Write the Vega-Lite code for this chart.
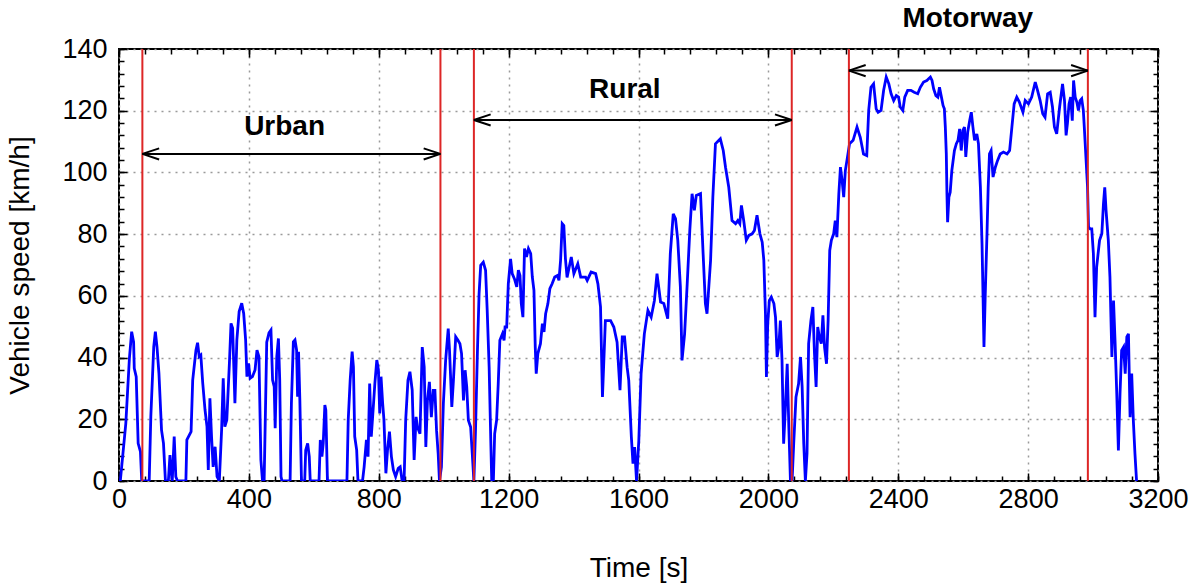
{
  "$schema": "https://vega.github.io/schema/vega-lite/v6.json",
  "width": 1039,
  "height": 432,
  "autosize": "none",
  "padding": {"left": 119, "top": 49, "right": 34, "bottom": 103},
  "background": "white",
  "config": {
    "view": {"stroke": "black", "strokeWidth": 2},
    "font": "Liberation Sans",
    "axis": {"domain": false, "tickColor": "black", "tickWidth": 1.5, "labelColor": "black", "titleColor": "black", "labelFont": "Liberation Sans", "titleFont": "Liberation Sans"}
  },
  "datasets": {
    "speed": [
      {"t":0,"v":0},{"t":4,"v":0},{"t":21,"v":18.7},{"t":32,"v":39.7},{"t":39,"v":48.4},{"t":45,"v":45},{"t":47,"v":36.5},{"t":53,"v":33.8},{"t":59,"v":12.2},{"t":66,"v":9.5},{"t":70,"v":0},{"t":93,"v":0},{"t":98,"v":20.8},{"t":107,"v":43.5},{"t":112,"v":48.4},{"t":117,"v":43.5},{"t":123,"v":34.9},{"t":131,"v":16.5},{"t":137,"v":12.2},{"t":143,"v":0},{"t":152,"v":0},{"t":157,"v":8.4},{"t":160,"v":3.6},{"t":164,"v":0},{"t":170,"v":14.4},{"t":175,"v":1.4},{"t":180,"v":0},{"t":206,"v":0},{"t":209,"v":13.3},{"t":222,"v":16},{"t":227,"v":32.7},{"t":237,"v":42.4},{"t":242,"v":44.8},{"t":247,"v":40.3},{"t":252,"v":40.8},{"t":258,"v":31.6},{"t":265,"v":23},{"t":271,"v":17.6},{"t":275,"v":3.6},{"t":280,"v":26.8},{"t":285,"v":14.4},{"t":290,"v":4.6},{"t":296,"v":11.1},{"t":302,"v":1.4},{"t":309,"v":0},{"t":316,"v":16.5},{"t":321,"v":33.3},{"t":326,"v":17.6},{"t":332,"v":19.8},{"t":340,"v":38.1},{"t":345,"v":51.1},{"t":350,"v":49.5},{"t":357,"v":25.2},{"t":363,"v":45.7},{"t":370,"v":54.9},{"t":378,"v":57.6},{"t":384,"v":54.3},{"t":390,"v":45.7},{"t":394,"v":33.8},{"t":399,"v":38.1},{"t":404,"v":33.3},{"t":411,"v":33.8},{"t":419,"v":36},{"t":425,"v":42.4},{"t":431,"v":40.3},{"t":437,"v":6.8},{"t":442,"v":0},{"t":447,"v":0},{"t":455,"v":45},{"t":462,"v":48},{"t":468,"v":48.9},{"t":473,"v":32.7},{"t":478,"v":30.6},{"t":481,"v":17.1},{"t":486,"v":40.3},{"t":491,"v":46.2},{"t":495,"v":32.7},{"t":499,"v":1.4},{"t":502,"v":0},{"t":527,"v":0},{"t":531,"v":25.2},{"t":537,"v":45.1},{"t":542,"v":45.7},{"t":547,"v":42.4},{"t":550,"v":27.3},{"t":553,"v":41.9},{"t":557,"v":26.2},{"t":562,"v":0},{"t":572,"v":0},{"t":575,"v":10},{"t":581,"v":12.2},{"t":586,"v":7.9},{"t":589,"v":0},{"t":616,"v":0},{"t":620,"v":13.3},{"t":625,"v":7.9},{"t":629,"v":12.2},{"t":634,"v":24.6},{"t":637,"v":23},{"t":642,"v":0},{"t":702,"v":0},{"t":706,"v":19.8},{"t":712,"v":32.7},{"t":718,"v":41.9},{"t":722,"v":37},{"t":726,"v":14.4},{"t":732,"v":10},{"t":736,"v":0},{"t":750,"v":0},{"t":755,"v":4.6},{"t":762,"v":13.3},{"t":767,"v":7.9},{"t":772,"v":31.6},{"t":777,"v":14.4},{"t":784,"v":25.2},{"t":788,"v":31.6},{"t":794,"v":39.2},{"t":799,"v":36},{"t":803,"v":21.9},{"t":807,"v":33.8},{"t":812,"v":25.2},{"t":816,"v":19.8},{"t":822,"v":2.5},{"t":827,"v":10},{"t":833,"v":16},{"t":839,"v":7.9},{"t":845,"v":3.6},{"t":852,"v":1.4},{"t":860,"v":4.1},{"t":866,"v":4.6},{"t":872,"v":0},{"t":878,"v":0},{"t":883,"v":19.8},{"t":890,"v":32.7},{"t":896,"v":35.4},{"t":903,"v":29.5},{"t":909,"v":6.8},{"t":915,"v":20.8},{"t":919,"v":17.5},{"t":927,"v":15.3},{"t":934,"v":43.4},{"t":940,"v":36.9},{"t":945,"v":11},{"t":950,"v":26.1},{"t":956,"v":32.1},{"t":962,"v":20.7},{"t":968,"v":29.4},{"t":973,"v":29.4},{"t":978,"v":16.4},{"t":983,"v":8.9},{"t":987,"v":0},{"t":993,"v":4.5},{"t":999,"v":25.1},{"t":1006,"v":39.1},{"t":1014,"v":49.4},{"t":1018,"v":42.3},{"t":1025,"v":24},{"t":1030,"v":32.6},{"t":1037,"v":46.7},{"t":1044,"v":45.6},{"t":1050,"v":44.5},{"t":1055,"v":41.3},{"t":1061,"v":26.1},{"t":1066,"v":35.9},{"t":1071,"v":30.5},{"t":1076,"v":19.7},{"t":1083,"v":17.5},{"t":1088,"v":8.9},{"t":1093,"v":0},{"t":1098,"v":16.4},{"t":1104,"v":42.3},{"t":1109,"v":60.7},{"t":1114,"v":69.9},{"t":1122,"v":70.9},{"t":1129,"v":68.3},{"t":1134,"v":55.3},{"t":1140,"v":36.9},{"t":1145,"v":13.2},{"t":1148,"v":0},{"t":1153,"v":0},{"t":1157,"v":15.3},{"t":1163,"v":19.7},{"t":1168,"v":31.5},{"t":1173,"v":45.6},{"t":1181,"v":47.7},{"t":1186,"v":45.6},{"t":1189,"v":49.9},{"t":1194,"v":49.9},{"t":1199,"v":63.9},{"t":1206,"v":72},{"t":1211,"v":67.2},{"t":1218,"v":65.5},{"t":1225,"v":62.9},{"t":1230,"v":68.3},{"t":1235,"v":66.6},{"t":1239,"v":57.5},{"t":1244,"v":53.1},{"t":1249,"v":75.3},{"t":1255,"v":72.6},{"t":1261,"v":75.3},{"t":1268,"v":73.7},{"t":1273,"v":66.1},{"t":1278,"v":61.8},{"t":1282,"v":43.4},{"t":1285,"v":34.8},{"t":1290,"v":41.3},{"t":1298,"v":44.5},{"t":1304,"v":51},{"t":1309,"v":48.3},{"t":1314,"v":54.2},{"t":1321,"v":57.5},{"t":1327,"v":62.3},{"t":1334,"v":63.9},{"t":1342,"v":66.1},{"t":1350,"v":66.6},{"t":1355,"v":65},{"t":1360,"v":71.5},{"t":1365,"v":83.4},{"t":1370,"v":82.8},{"t":1375,"v":72},{"t":1380,"v":66},{"t":1393,"v":72.6},{"t":1401,"v":67.2},{"t":1413,"v":70.4},{"t":1422,"v":66.1},{"t":1437,"v":66.1},{"t":1442,"v":65},{"t":1454,"v":67.7},{"t":1468,"v":67.2},{"t":1475,"v":63.9},{"t":1483,"v":56.4},{"t":1489,"v":27.2},{"t":1498,"v":52},{"t":1514,"v":52},{"t":1524,"v":49.9},{"t":1534,"v":45},{"t":1543,"v":29.4},{"t":1550,"v":46.7},{"t":1557,"v":46.7},{"t":1565,"v":36.9},{"t":1570,"v":32.6},{"t":1578,"v":14.3},{"t":1583,"v":5.6},{"t":1588,"v":11},{"t":1594,"v":0},{"t":1601,"v":13.2},{"t":1608,"v":34.8},{"t":1618,"v":47.7},{"t":1629,"v":55.3},{"t":1639,"v":53.1},{"t":1649,"v":58.5},{"t":1657,"v":67.2},{"t":1668,"v":58},{"t":1678,"v":57.5},{"t":1690,"v":52.6},{"t":1698,"v":73.7},{"t":1707,"v":86.6},{"t":1714,"v":85},{"t":1721,"v":78},{"t":1729,"v":62.9},{"t":1734,"v":39.1},{"t":1742,"v":47.7},{"t":1750,"v":63.9},{"t":1758,"v":81.2},{"t":1765,"v":93.1},{"t":1772,"v":87.7},{"t":1778,"v":92.5},{"t":1791,"v":93.1},{"t":1799,"v":73.7},{"t":1806,"v":57.5},{"t":1811,"v":54.2},{"t":1822,"v":71.5},{"t":1829,"v":92},{"t":1837,"v":109.3},{"t":1852,"v":110.9},{"t":1861,"v":107.1},{"t":1868,"v":101.7},{"t":1878,"v":95.2},{"t":1888,"v":84.4},{"t":1899,"v":83.4},{"t":1906,"v":84.4},{"t":1912,"v":83.4},{"t":1917,"v":89.3},{"t":1924,"v":84.4},{"t":1932,"v":78},{"t":1940,"v":79.6},{"t":1950,"v":80.1},{"t":1957,"v":81.2},{"t":1965,"v":86.1},{"t":1974,"v":80.1},{"t":1981,"v":77.4},{"t":1986,"v":71.5},{"t":1991,"v":54.2},{"t":1994,"v":33.7},{"t":1998,"v":51},{"t":2003,"v":58.5},{"t":2009,"v":59.6},{"t":2017,"v":57.5},{"t":2022,"v":53.1},{"t":2027,"v":40.2},{"t":2032,"v":43.4},{"t":2037,"v":52},{"t":2042,"v":39.1},{"t":2047,"v":12.1},{"t":2052,"v":22.9},{"t":2058,"v":38},{"t":2063,"v":17.5},{"t":2068,"v":0},{"t":2073,"v":0},{"t":2078,"v":12.1},{"t":2085,"v":27.2},{"t":2093,"v":31.5},{"t":2099,"v":40.2},{"t":2104,"v":30.5},{"t":2109,"v":12.1},{"t":2114,"v":0},{"t":2119,"v":8.9},{"t":2124,"v":44.5},{"t":2131,"v":52},{"t":2137,"v":56.4},{"t":2142,"v":41.3},{"t":2147,"v":30.5},{"t":2152,"v":49.9},{"t":2157,"v":46.7},{"t":2163,"v":44.5},{"t":2168,"v":53.7},{"t":2173,"v":43.4},{"t":2179,"v":38},{"t":2184,"v":52},{"t":2189,"v":74.7},{"t":2194,"v":78},{"t":2201,"v":80.1},{"t":2206,"v":84.4},{"t":2211,"v":79},{"t":2217,"v":93.1},{"t":2222,"v":101.7},{"t":2227,"v":97.4},{"t":2232,"v":92},{"t":2237,"v":100.6},{"t":2242,"v":103.9},{"t":2250,"v":109.3},{"t":2261,"v":110.4},{"t":2273,"v":114.7},{"t":2283,"v":111.4},{"t":2293,"v":106},{"t":2303,"v":105.5},{"t":2309,"v":120.1},{"t":2316,"v":127.6},{"t":2324,"v":128.7},{"t":2332,"v":120.6},{"t":2338,"v":119.5},{"t":2347,"v":120.1},{"t":2355,"v":126.6},{"t":2363,"v":130.9},{"t":2371,"v":128.7},{"t":2378,"v":125.5},{"t":2386,"v":123.3},{"t":2394,"v":124.9},{"t":2401,"v":124.4},{"t":2406,"v":121.2},{"t":2414,"v":120.1},{"t":2420,"v":124.4},{"t":2429,"v":126.6},{"t":2439,"v":126.6},{"t":2449,"v":126},{"t":2460,"v":125.5},{"t":2468,"v":127.6},{"t":2478,"v":129.3},{"t":2488,"v":129.8},{"t":2499,"v":130.9},{"t":2504,"v":129.8},{"t":2509,"v":127.1},{"t":2516,"v":124.9},{"t":2522,"v":124.4},{"t":2527,"v":127.6},{"t":2533,"v":124.4},{"t":2538,"v":121.7},{"t":2542,"v":120.6},{"t":2545,"v":114.7},{"t":2548,"v":106},{"t":2550,"v":93.1},{"t":2552,"v":83.9},{"t":2556,"v":92},{"t":2560,"v":93.6},{"t":2565,"v":100.6},{"t":2573,"v":107.1},{"t":2579,"v":109.3},{"t":2584,"v":110.4},{"t":2589,"v":114.1},{"t":2594,"v":107.1},{"t":2599,"v":113.6},{"t":2604,"v":114.7},{"t":2608,"v":105},{"t":2614,"v":113.1},{"t":2620,"v":116.8},{"t":2625,"v":119.5},{"t":2630,"v":114.7},{"t":2635,"v":110.4},{"t":2642,"v":112.5},{"t":2647,"v":109.3},{"t":2653,"v":95.2},{"t":2658,"v":76.9},{"t":2661,"v":60.7},{"t":2664,"v":43.4},{"t":2668,"v":60.7},{"t":2673,"v":79},{"t":2677,"v":95.2},{"t":2681,"v":106},{"t":2686,"v":107.1},{"t":2692,"v":98.5},{"t":2699,"v":101.7},{"t":2706,"v":103.9},{"t":2714,"v":106},{"t":2724,"v":106.6},{"t":2735,"v":106},{"t":2743,"v":107.1},{"t":2750,"v":114.7},{"t":2757,"v":122.2},{"t":2765,"v":124.4},{"t":2773,"v":122.8},{"t":2784,"v":119.5},{"t":2791,"v":123.3},{"t":2801,"v":122.2},{"t":2811,"v":124.4},{"t":2822,"v":129.3},{"t":2829,"v":126.6},{"t":2837,"v":123.3},{"t":2845,"v":119},{"t":2852,"v":117.9},{"t":2860,"v":125.5},{"t":2868,"v":126},{"t":2875,"v":121.2},{"t":2881,"v":114.7},{"t":2888,"v":112.5},{"t":2897,"v":121.2},{"t":2906,"v":128.7},{"t":2912,"v":123.3},{"t":2917,"v":112},{"t":2921,"v":115.8},{"t":2926,"v":122.2},{"t":2931,"v":124.4},{"t":2936,"v":116.8},{"t":2940,"v":129.8},{"t":2945,"v":124.4},{"t":2950,"v":122.8},{"t":2955,"v":120.1},{"t":2960,"v":123.3},{"t":2965,"v":123.9},{"t":2970,"v":120.1},{"t":2973,"v":114.7},{"t":2978,"v":105},{"t":2983,"v":95.2},{"t":2986,"v":82.3},{"t":2991,"v":81.7},{"t":2996,"v":81.7},{"t":3001,"v":73.7},{"t":3006,"v":53.1},{"t":3011,"v":69.3},{"t":3020,"v":78},{"t":3027,"v":80.1},{"t":3032,"v":89.8},{"t":3036,"v":95.2},{"t":3040,"v":87.7},{"t":3047,"v":78},{"t":3052,"v":66.1},{"t":3058,"v":40.2},{"t":3063,"v":58.5},{"t":3068,"v":44.5},{"t":3073,"v":28.3},{"t":3078,"v":9.9},{"t":3083,"v":28.3},{"t":3088,"v":42.3},{"t":3094,"v":43.4},{"t":3099,"v":34.8},{"t":3104,"v":46.7},{"t":3109,"v":47.7},{"t":3114,"v":20.7},{"t":3119,"v":34.8},{"t":3124,"v":19.7},{"t":3129,"v":8.9},{"t":3134,"v":0}
    ],
    "bounds": [{"t":72},{"t":990},{"t":1093},{"t":2072},{"t":2248},{"t":2984}],
    "arrows": [
      {"from":72,"to":990,"v":106},
      {"from":1093,"to":2072,"v":117},
      {"from":2248,"to":2984,"v":133}
    ],
    "heads": [
      {"t":72,"v":106,"dir":"left"},{"t":990,"v":106,"dir":"right"},
      {"t":1093,"v":117,"dir":"left"},{"t":2072,"v":117,"dir":"right"},
      {"t":2248,"v":133,"dir":"left"},{"t":2984,"v":133,"dir":"right"}
    ],
    "labels": [
      {"t":510,"v":114.6,"label":"Urban"},
      {"t":1558,"v":126.6,"label":"Rural"},
      {"t":2614,"v":149.6,"label":"Motorway"}
    ]
  },
  "layer": [
    {
      "data": {"name": "speed"},
      "mark": {"type": "line", "color": "#0000ff", "strokeWidth": 2.8, "clip": true},
      "encoding": {
        "x": {"field": "t", "type": "quantitative",
          "scale": {"domain": [0, 3200], "nice": false, "zero": false},
          "axis": {"orient": "bottom", "values": [0,400,800,1200,1600,2000,2400,2800,3200], "format": "d",
            "grid": true, "gridDash": [2, 5], "gridColor": "#9a9a9a", "gridWidth": 1.5,
            "tickSize": -8, "labelFontSize": 27, "labelPadding": 13, "labelFlush": false,
            "title": "Time [s]", "titleFontSize": 28, "titleFontWeight": "normal", "titlePadding": 42}},
        "y": {"field": "v", "type": "quantitative",
          "scale": {"domain": [0, 140], "nice": false, "zero": false},
          "axis": {"orient": "left", "values": [0,20,40,60,80,100,120,140], "format": "d",
            "grid": true, "gridDash": [2, 5], "gridColor": "#9a9a9a", "gridWidth": 1.5,
            "tickSize": -8, "labelFontSize": 27, "labelPadding": 20, "labelFlush": false,
            "title": "Vehicle speed [km/h]", "titleFontSize": 28, "titleFontWeight": "normal", "titlePadding": 27}}
      }
    },
    {
      "data": {"name": "bounds"},
      "mark": {"type": "rule", "color": "#dd2626", "strokeWidth": 2},
      "encoding": {
        "x": {"field": "t", "type": "quantitative", "axis": null}
      }
    },
    {
      "data": {"name": "arrows"},
      "mark": {"type": "rule", "color": "black", "strokeWidth": 2},
      "encoding": {
        "x": {"field": "from", "type": "quantitative",
          "axis": {"orient": "bottom", "values": [0,80,160,240,320,400,480,560,640,720,800,880,960,1040,1120,1200,1280,1360,1440,1520,1600,1680,1760,1840,1920,2000,2080,2160,2240,2320,2400,2480,2560,2640,2720,2800,2880,2960,3040,3120,3200],
            "tickSize": -5, "labels": false, "grid": false, "title": null}},
        "x2": {"field": "to"},
        "y": {"field": "v", "type": "quantitative",
          "axis": {"orient": "left", "values": [0,4,8,12,16,20,24,28,32,36,40,44,48,52,56,60,64,68,72,76,80,84,88,92,96,100,104,108,112,116,120,124,128,132,136,140],
            "tickSize": -5, "labels": false, "grid": false, "title": null}}
      }
    },
    {
      "data": {"name": "heads"},
      "mark": {"type": "point", "filled": false, "stroke": "black", "strokeWidth": 2, "size": 500, "opacity": 1},
      "encoding": {
        "x": {"field": "t", "type": "quantitative",
          "axis": {"orient": "top", "values": [0,80,160,240,320,400,480,560,640,720,800,880,960,1040,1120,1200,1280,1360,1440,1520,1600,1680,1760,1840,1920,2000,2080,2160,2240,2320,2400,2480,2560,2640,2720,2800,2880,2960,3040,3120,3200],
            "tickSize": -5, "labels": false, "grid": false, "title": null}},
        "y": {"field": "v", "type": "quantitative",
          "axis": {"orient": "right", "values": [0,4,8,12,16,20,24,28,32,36,40,44,48,52,56,60,64,68,72,76,80,84,88,92,96,100,104,108,112,116,120,124,128,132,136,140],
            "tickSize": -5, "labels": false, "grid": false, "title": null}},
        "shape": {"field": "dir", "type": "nominal",
          "scale": {"domain": ["left", "right"], "range": ["M0,0L1.5,-0.5M0,0L1.5,0.5", "M0,0L-1.5,-0.5M0,0L-1.5,0.5"]},
          "legend": null}
      }
    },
    {
      "data": {"name": "labels"},
      "mark": {"type": "text", "fontSize": 28, "fontWeight": "bold", "align": "center", "baseline": "middle", "color": "black", "font": "Liberation Sans"},
      "encoding": {
        "x": {"field": "t", "type": "quantitative",
          "axis": {"orient": "top", "values": [0,400,800,1200,1600,2000,2400,2800,3200],
            "tickSize": -8, "labels": false, "grid": false, "title": null}},
        "y": {"field": "v", "type": "quantitative",
          "axis": {"orient": "right", "values": [0,20,40,60,80,100,120,140],
            "tickSize": -8, "labels": false, "grid": false, "title": null}},
        "text": {"field": "label"}
      }
    }
  ],
  "resolve": {"axis": {"x": "independent", "y": "independent"}}
}
